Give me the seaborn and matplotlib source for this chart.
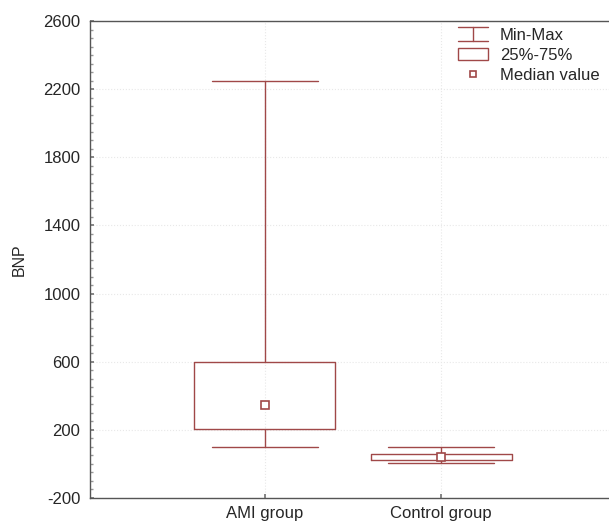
import numpy as np
import pandas as pd
import matplotlib
matplotlib.use("Agg")
import matplotlib.pyplot as plt
import seaborn as sns
from matplotlib.lines import Line2D
from matplotlib.patches import Rectangle
from matplotlib.legend_handler import HandlerBase
from matplotlib.ticker import MultipleLocator

groups = ["AMI group", "Control group"]
bnp_min = [100, 8]
bnp_q1 = [205, 25]
bnp_median = [345, 40]
bnp_q3 = [600, 60]
bnp_max = [2250, 100]

color = "#a04848"

sns.set_theme(style="white")
plt.rcParams["font.family"] = ["Liberation Sans", "DejaVu Sans"]
plt.rcParams["axes.unicode_minus"] = False

stats = pd.DataFrame({
    "group": groups,
    "whislo": bnp_min,
    "q1": bnp_q1,
    "med": bnp_median,
    "q3": bnp_q3,
    "whishi": bnp_max,
})

fig = plt.figure(figsize=(6.09, 5.22), dpi=100)
ax = fig.add_axes([90 / 609, 24 / 522, 1 - 90 / 609, 477 / 522])

bxp_stats = []
for _, r in stats.iterrows():
    bxp_stats.append({
        "label": r["group"], "whislo": r["whislo"], "q1": r["q1"],
        "med": r["med"], "mean": r["med"], "q3": r["q3"], "whishi": r["whishi"],
        "fliers": [],
    })

ax.bxp(
    bxp_stats, positions=range(len(groups)), widths=0.8,
    showmeans=True, meanline=False, capwidths=0.6,
    boxprops=dict(color=color, linewidth=1.0),
    whiskerprops=dict(color=color, linewidth=1.0),
    capprops=dict(color=color, linewidth=1.0),
    medianprops=dict(linestyle="none"),
    meanprops=dict(marker="s", markersize=6, markerfacecolor="white",
                   markeredgecolor=color, markeredgewidth=1.2),
    manage_ticks=False, zorder=3,
)

ax.set_xlim(-0.99, 1.95)
ax.set_ylim(-200, 2600)
ax.set_yticks(np.arange(-200, 2601, 400))
ax.yaxis.set_minor_locator(MultipleLocator(50))
ax.set_xticks(range(len(groups)))
ax.set_xticklabels(groups)
ax.set_ylabel("BNP", fontsize=11.5, labelpad=12)
ax.tick_params(axis="both", labelsize=12, direction="in", length=3,
               color="#777777", left=True, bottom=True)
ax.tick_params(axis="x", pad=6)
ax.tick_params(axis="y", pad=7)
ax.tick_params(axis="y", which="minor", direction="in", length=2,
               color="#999999", left=True)
ax.grid(True, color="#e8e8e8", linewidth=0.8, linestyle=":")
ax.set_axisbelow(True)
for s in ["left", "bottom", "top"]:
    ax.spines[s].set_color("#555555")
    ax.spines[s].set_linewidth(1.0)
ax.spines["right"].set_visible(False)


class MinMaxHandler(HandlerBase):
    def create_artists(self, legend, orig_handle, xdescent, ydescent,
                       width, height, fontsize, trans):
        x0, x1 = -xdescent, -xdescent + width
        xm = (x0 + x1) / 2
        y0, y1 = -ydescent - 1, -ydescent + height + 1
        lines = [
            Line2D([x0, x1], [y0, y0]),
            Line2D([x0, x1], [y1, y1]),
            Line2D([xm, xm], [y0, y1]),
        ]
        for ln in lines:
            ln.set_color(color)
            ln.set_linewidth(1.0)
            ln.set_transform(trans)
        return lines


minmax = Line2D([], [], color=color)
box = Rectangle((0, 0), 1, 1, facecolor="white", edgecolor=color, linewidth=1.0)
med = Line2D([], [], linestyle="none", marker="s", markersize=5,
             markerfacecolor="white", markeredgecolor=color, markeredgewidth=1.2)
ax.legend([minmax, box, med], ["Min-Max", "25%-75%", "Median value"],
          handler_map={minmax: MinMaxHandler()},
          loc="upper left", bbox_to_anchor=(458 / 609, 1 - 28 / 522),
          bbox_transform=fig.transFigure, frameon=False,
          fontsize=12, handlelength=1.8, handletextpad=0.7,
          labelspacing=0.3, borderaxespad=0, borderpad=0)

fig.savefig("out.png", dpi=100)
